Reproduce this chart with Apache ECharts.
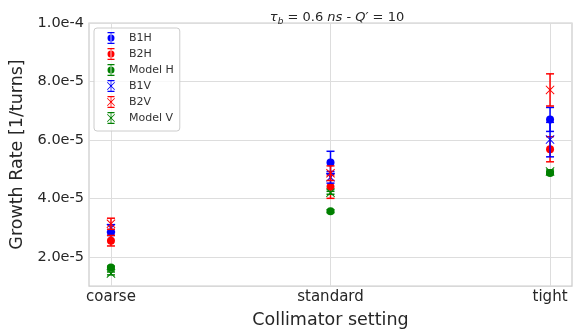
<!DOCTYPE html>
<html>
<head>
<meta charset="utf-8">
<script src="https://cdn.jsdelivr.net/npm/echarts@6/dist/echarts.min.js"></script>
<style>html,body{margin:0;padding:0;background:#fff}#c{width:582px;height:334px}</style>
</head>
<body>
<div id="c"></div>
<script>
// categories (x positions 0,1,2)
const categories = ['coarse', 'standard', 'tight'];
const yTicks = [2e-5, 4e-5, 6e-5, 8e-5, 1e-4];

const b1h = [2.83e-5, 5.23e-5, 6.70e-5];
const b1hErr = [1.0e-6, 3.8e-6, 4.1e-6];
const b2h = [2.55e-5, 4.40e-5, 5.68e-5];
const b2hErr = [1.8e-6, 4.0e-6, 4.3e-6];
const modelH = [1.63e-5, 3.56e-5, 4.87e-5];
const modelHErr = [5e-7, 5e-7, 5e-7];
const b1v = [2.98e-5, 4.72e-5, 6.01e-5];
const b1vErr = [1.2e-6, 2.0e-6, 5.9e-6];
const b2v = [3.13e-5, 4.86e-5, 7.71e-5];
const b2vErr = [1.9e-6, 2.5e-6, 5.5e-6];
const modelV = [1.43e-5, 4.19e-5, 4.92e-5];
const modelVErr = [5e-7, 5e-7, 5e-7];

const BLUE = '#0000ff', RED = '#ff0000', GREEN = '#008000';
const XPATH = 'path://M1,2.4L2.4,1L10,8.6L17.6,1L19,2.4L11.4,10L19,17.6L17.6,19L10,11.4L2.4,19L1,17.6L8.6,10Z';
// legend icons drawn in a 50x28 box (same aspect as itemWidth x itemHeight), glyph centred at x=24
const BOX = 'M0,0L0.01,0L0,0.01Z M50,28L49.99,28L50,27.99Z ';
const BAR = ' M23.25,3L24.75,3L24.75,25L23.25,25Z M17,2L31,2L31,4.5L17,4.5Z M17,23.5L31,23.5L31,26L17,26Z';
const DOT_ICON = 'path://' + BOX + 'M17,14A7,7 0 1,0 31,14A7,7 0 1,0 17,14Z' + BAR;
const X_ICON = 'path://' + BOX + 'M16,7.2L17.2,6L24,12.8L30.8,6L32,7.2L25.2,14L32,20.8L30.8,22L24,15.2L17.2,22L16,20.8L22.8,14Z' + BAR;

const seriesDefs = [
  {name: 'B1H', vals: b1h, errs: b1hErr, color: BLUE, marker: 'circle'},
  {name: 'B2H', vals: b2h, errs: b2hErr, color: RED, marker: 'circle'},
  {name: 'Model H', vals: modelH, errs: modelHErr, color: GREEN, marker: 'circle'},
  {name: 'B1V', vals: b1v, errs: b1vErr, color: BLUE, marker: 'x'},
  {name: 'B2V', vals: b2v, errs: b2vErr, color: RED, marker: 'x'},
  {name: 'Model V', vals: modelV, errs: modelVErr, color: GREEN, marker: 'x'}
];

const series = [];
seriesDefs.forEach((d, k) => {
  series.push({
    type: 'custom',
    name: d.name + '_err',
    z: 2 + k * 2,
    silent: true,
    data: d.vals.map((v, i) => [i, v, d.errs[i]]),
    renderItem: function (params, api) {
      const x = api.value(0), y = api.value(1), e = api.value(2);
      const top = api.coord([x, y + e]);
      const bot = api.coord([x, y - e]);
      const cw = 4;
      const st = {stroke: d.color, lineWidth: 1.5};
      return {
        type: 'group',
        children: [
          {type: 'line', shape: {x1: top[0], y1: top[1], x2: bot[0], y2: bot[1]}, style: st},
          {type: 'line', shape: {x1: top[0] - cw, y1: top[1], x2: top[0] + cw, y2: top[1]}, style: st},
          {type: 'line', shape: {x1: bot[0] - cw, y1: bot[1], x2: bot[0] + cw, y2: bot[1]}, style: st}
        ]
      };
    }
  });
  series.push({
    type: 'scatter',
    name: d.name,
    z: 3 + k * 2,
    symbol: d.marker === 'circle' ? 'circle' : XPATH,
    symbolSize: d.marker === 'circle' ? 8 : 9,
    itemStyle: {color: d.color, opacity: 1},
    data: d.vals.map((v, i) => [i, v])
  });
});

const chart = echarts.init(document.getElementById('c'), null, {renderer: 'canvas'});
chart.setOption({
  animation: false,
  backgroundColor: '#ffffff',
  textStyle: {fontFamily: 'DejaVu Sans'},
  title: {
    text: '{i|τ}{s|b}{n| = 0.6 }{i|ns}{n| - }{i|Q′}{n| = 10}',
    left: 332, top: 5, textAlign: 'center',
    textStyle: {
      fontWeight: 'normal',
      rich: {
        i: {fontFamily: 'DejaVu Sans', fontStyle: 'italic', fontWeight: 'normal', fontSize: 13, color: '#262626'},
        s: {fontFamily: 'DejaVu Sans', fontStyle: 'italic', fontWeight: 'normal', fontSize: 9, color: '#262626', padding: [7, 0, 0, 0]},
        n: {fontFamily: 'DejaVu Sans', fontWeight: 'normal', fontSize: 13, color: '#262626'}
      }
    }
  },
  grid: {left: 89, right: 10, top: 23, bottom: 42, show: true, borderColor: '#cccccc', borderWidth: 1.25, containLabel: false},
  legend: {
    orient: 'vertical', left: 94, top: 28,
    padding: [3, 6, 6, 5], itemGap: 2, itemWidth: 25, itemHeight: 14,
    symbolKeepAspect: false,
    borderColor: '#cccccc', borderWidth: 1, borderRadius: 3, backgroundColor: 'rgba(255,255,255,0.8)',
    textStyle: {fontSize: 11, color: '#333333', fontFamily: 'DejaVu Sans'},
    data: seriesDefs.map(d => ({name: d.name, icon: d.marker === 'circle' ? DOT_ICON : X_ICON}))
  },
  xAxis: {
    type: 'value', min: -0.1, max: 2.1,
    name: 'Collimator setting', nameLocation: 'middle', nameGap: 25,
    nameTextStyle: {fontSize: 17.5, color: '#262626', fontFamily: 'DejaVu Sans'},
    axisLine: {show: false}, axisTick: {show: false, customValues: [0, 1, 2]},
    axisLabel: {customValues: [0, 1, 2], formatter: v => categories[Math.round(v)] || '', fontSize: 15, color: '#262626', margin: 4},
    splitLine: {show: true, lineStyle: {color: '#dddddd', width: 1}}
  },
  yAxis: {
    type: 'value', min: 1e-5, max: 1e-4,
    name: 'Growth Rate [1/turns]', nameLocation: 'middle', nameGap: 52,
    nameTextStyle: {fontSize: 17.5, color: '#262626', fontFamily: 'DejaVu Sans'},
    axisLine: {show: false}, axisTick: {show: false, customValues: yTicks},
    axisLabel: {customValues: yTicks, formatter: v => v.toExponential(1), fontSize: 14.5, color: '#262626', margin: 5},
    splitLine: {show: true, lineStyle: {color: '#dddddd', width: 1}}
  },
  series: series
});
</script>
</body>
</html>
